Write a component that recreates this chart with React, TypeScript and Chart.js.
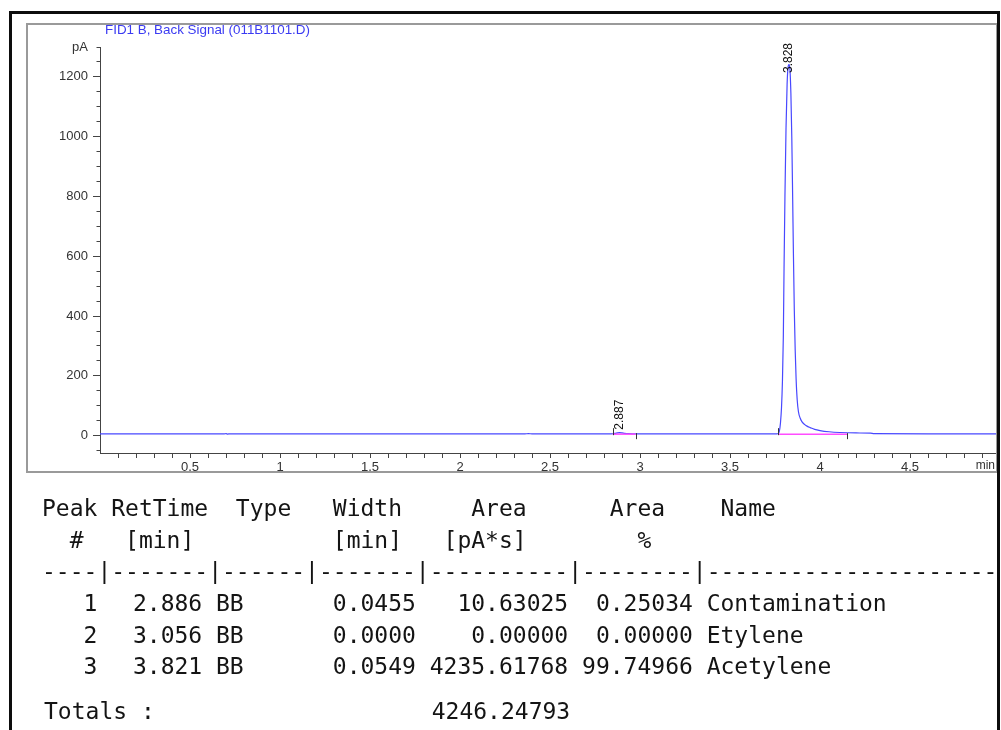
import React, { useEffect, useRef } from 'react';
import { Chart, registerables } from 'chart.js';

Chart.register(...registerables);

const SIGNAL_TITLE = 'FID1 B, Back Signal (011B1101.D)';
const Y_UNIT = 'pA';
const X_UNIT = 'min';

// FID trace: retention time (min) and detector signal (pA)
const signalTime = [
  0.0, 0.69, 0.70, 0.71, 0.72, 1.5, 2.36, 2.38, 2.40, 2.84,
  2.85, 2.862, 2.875, 2.887, 2.9, 2.915, 2.935, 2.96, 2.975, 3.5,
  3.76, 3.768, 3.774, 3.78, 3.786, 3.791, 3.796, 3.8, 3.805, 3.811,
  3.817, 3.823, 3.828, 3.833, 3.838, 3.843, 3.848, 3.852, 3.857, 3.862,
  3.867, 3.873, 3.88, 3.89, 3.9, 3.915, 3.93, 3.945, 3.97, 4.0,
  4.05, 4.11, 4.2, 4.28, 4.3, 4.6, 4.99,
];
const signalPA = [
  6, 6, 6.8, 5.4, 6, 6, 6, 6.6, 6, 6,
  6.3, 7.5, 9.2, 10, 9.2, 7.8, 6.8, 6.2, 6, 6,
  6, 7, 15, 42, 95, 180, 330, 560, 800, 1030,
  1175, 1235, 1242, 1222, 1145, 1000, 790, 610, 420, 285,
  190, 120, 80, 58, 46, 37, 31, 27, 21, 17,
  13, 10.5, 9, 8.5, 6.5, 6, 6,
];

// annotated apex retention times
const peakLabelTimes = [2.887, 3.828];

// integration baselines (start, end, level in pA)
const baselineStart = [2.848, 3.767];
const baselineEnd = [2.975, 4.15];
const baselineLevel = [5, 5];

// axis ticks
const xMajorTicks = [0.5, 1, 1.5, 2, 2.5, 3, 3.5, 4, 4.5];
const xTickLabels = ['0.5', '1', '1.5', '2', '2.5', '3', '3.5', '4', '4.5'];
const yMajorTicks = [0, 200, 400, 600, 800, 1000, 1200];
const yTickLabels = ['0', '200', '400', '600', '800', '1000', '1200'];
const Y_UNIT_TICK = 1300;

// report table
const peakNumbers = [1, 2, 3];
const retTimes = [2.886, 3.056, 3.821];
const peakTypes = ['BB', 'BB', 'BB'];
const peakWidths = [0.0455, 0.0, 0.0549];
const peakAreas = [10.63025, 0.0, 4235.61768];
const areaPercents = [0.25034, 0.0, 99.74966];
const compoundNames = ['Contamination', 'Etylene', 'Acetylene'];

const AXIS_FONT = '"Liberation Sans", Arial, Helvetica, sans-serif';

const annotations = {
  id: 'chromAnnotations',
  afterDatasetsDraw(chart: any) {
    const { ctx, chartArea, scales } = chart;
    const x = scales.x;
    const y = scales.y;
    ctx.save();

    // signal title
    ctx.font = `13.4px ${AXIS_FONT}`;
    ctx.fillStyle = '#3b3bf2';
    ctx.textAlign = 'left';
    ctx.textBaseline = 'middle';
    ctx.fillText(SIGNAL_TITLE, chartArea.left + 5, chartArea.top - 17);

    // x unit at the end of the time axis
    ctx.font = `12px ${AXIS_FONT}`;
    ctx.fillStyle = '#333';
    ctx.textAlign = 'right';
    ctx.fillText(X_UNIT, chartArea.right - 2, chartArea.bottom + 13);

    // integration start / end marks
    ctx.strokeStyle = '#333';
    ctx.lineWidth = 1;
    baselineStart.forEach((t, i) => {
      const px = Math.round(x.getPixelForValue(t)) + 0.5;
      const py = y.getPixelForValue(baselineLevel[i]);
      ctx.beginPath();
      ctx.moveTo(px, py + 1);
      ctx.lineTo(px, py - 6);
      ctx.stroke();
      const qx = Math.round(x.getPixelForValue(baselineEnd[i])) + 0.5;
      ctx.beginPath();
      ctx.moveTo(qx, py - 1);
      ctx.lineTo(qx, py + 5);
      ctx.stroke();
    });

    // retention time labels above each apex
    ctx.font = `12px ${AXIS_FONT}`;
    ctx.fillStyle = '#111';
    ctx.textAlign = 'left';
    ctx.textBaseline = 'middle';
    peakLabelTimes.forEach((t) => {
      let apex = -Infinity;
      signalTime.forEach((st, i) => {
        if (Math.abs(st - t) < 0.02) apex = Math.max(apex, signalPA[i]);
      });
      const text = t.toFixed(3);
      const w = ctx.measureText(text).width;
      const px = x.getPixelForValue(t);
      let bottom = y.getPixelForValue(apex) - 3;
      bottom = Math.max(bottom, chartArea.top - 4 + w);
      ctx.save();
      ctx.translate(px, bottom);
      ctx.rotate(-Math.PI / 2);
      ctx.fillText(text, 0, 0);
      ctx.restore();
    });

    ctx.restore();
  },
};

function ChromatogramChart() {
  const canvasRef = useRef<HTMLCanvasElement | null>(null);

  useEffect(() => {
    const canvas = canvasRef.current;
    if (!canvas) return;

    const datasets: any[] = [];
    baselineStart.forEach((t, i) => {
      datasets.push({
        data: [
          { x: t, y: baselineLevel[i] },
          { x: baselineEnd[i], y: baselineLevel[i] },
        ],
        borderColor: '#ff4cff',
        borderWidth: 1.5,
        pointRadius: 0,
        showLine: true,
      });
    });
    datasets.push({
      data: signalTime.map((t, i) => ({ x: t, y: signalPA[i] })),
      borderColor: '#4848ff',
      borderWidth: 1.2,
      pointRadius: 0,
      showLine: true,
      cubicInterpolationMode: 'monotone',
    });

    const chart = new Chart(canvas, {
      type: 'scatter',
      data: { datasets },
      options: {
        animation: false,
        responsive: false,
        devicePixelRatio: 1,
        layout: { padding: { top: 24, left: 0, right: 1, bottom: 0 } },
        plugins: { legend: { display: false }, tooltip: { enabled: false } },
        scales: {
          x: {
            type: 'linear',
            min: 0,
            max: 4.983,
            afterBuildTicks: (scale: any) => {
              const ticks = [];
              for (let i = 1; i <= 49; i++) ticks.push({ value: i / 10 });
              scale.ticks = ticks;
            },
            afterFit: (scale: any) => {
              scale.height = 20;
            },
            ticks: {
              autoSkip: false,
              maxRotation: 0,
              minRotation: 0,
              padding: 2,
              color: '#333',
              font: { family: AXIS_FONT, size: 13 },
              callback: (value: any) => {
                const idx = xMajorTicks.findIndex((v) => Math.abs(v - value) < 1e-6);
                return idx >= 0 ? xTickLabels[idx] : '';
              },
            },
            grid: {
              drawOnChartArea: false,
              drawTicks: true,
              tickLength: 5,
              tickColor: '#444',
              tickWidth: 1,
            },
            border: { display: true, color: '#444', width: 1 },
          },
          y: {
            type: 'linear',
            min: -58,
            max: 1300,
            afterBuildTicks: (scale: any) => {
              const ticks = [];
              for (let i = -1; i <= 26; i++) ticks.push({ value: i * 50 });
              scale.ticks = ticks;
            },
            afterFit: (scale: any) => {
              scale.width = 74;
            },
            ticks: {
              autoSkip: false,
              padding: 5,
              color: '#333',
              font: { family: AXIS_FONT, size: 13 },
              callback: (value: any) => {
                if (Math.abs(value - Y_UNIT_TICK) < 1e-6) return Y_UNIT;
                const idx = yMajorTicks.findIndex((v) => Math.abs(v - value) < 1e-6);
                return idx >= 0 ? yTickLabels[idx] : '';
              },
            },
            grid: {
              drawOnChartArea: false,
              drawTicks: true,
              tickLength: 7,
              tickColor: '#444',
              tickWidth: 1,
              tickBorderDash: (ctx: any) => {
                const v = ctx.tick ? ctx.tick.value : 0;
                return yMajorTicks.includes(v) ? [] : [0, 3.5, 10, 0];
              },
            },
            border: { display: true, color: '#444', width: 1 },
          },
        },
      },
      plugins: [annotations],
    } as any);

    return () => chart.destroy();
  }, []);

  return (
    <canvas
      ref={canvasRef}
      width={972}
      height={450}
      style={{ position: 'absolute', left: 26, top: 23, width: 972, height: 450 }}
    />
  );
}

// fixed-width report lines
const headerLine1 = 'Peak RetTime  Type   Width     Area      Area    Name';
const headerLine2 = '  #   [min]' + ' '.repeat(10) + '[min]   [pA*s]' + ' '.repeat(8) + '%';
const ruleLine = '----|-------|------|-------|----------|--------|' + '-'.repeat(40);

function rowParts(i: number) {
  const num = String(peakNumbers[i]).padStart(4);
  const mid = retTimes[i].toFixed(3).padStart(8) + ' ' + peakTypes[i].padEnd(2);
  const rest =
    peakWidths[i].toFixed(4).padStart(12) +
    peakAreas[i].toFixed(5).padStart(11) +
    areaPercents[i].toFixed(5).padStart(9) +
    ' ' +
    compoundNames[i];
  return { num, mid, rest };
}

const totalArea = peakAreas.reduce((a, b) => a + b, 0);
const totalsLine = 'Totals :' + totalArea.toFixed(5).padStart(30);

const ROW_BASELINES = [611, 643, 674];
const BASELINE_OFFSET = 19.5;

const monoStyle: React.CSSProperties = {
  position: 'absolute',
  left: 42,
  margin: 0,
  fontFamily: '"DejaVu Sans Mono", "Liberation Mono", monospace',
  fontSize: 23,
  lineHeight: '23px',
  color: '#141414',
  whiteSpace: 'pre',
};

export default function App() {
  return (
    <div
      style={{
        position: 'fixed',
        left: 0,
        top: 0,
        width: 1001,
        height: 730,
        background: '#fff',
        overflow: 'hidden',
      }}
    >
      <ChromatogramChart />
      <div
        style={{
          position: 'absolute',
          left: 26,
          top: 23,
          width: 972,
          height: 450,
          boxSizing: 'border-box',
          border: '2px solid #9a9a9a',
          pointerEvents: 'none',
        }}
      />
      <div
        style={{
          position: 'absolute',
          left: 9,
          top: 11,
          width: 991,
          height: 800,
          boxSizing: 'border-box',
          border: '3px solid #0d0d0d',
          pointerEvents: 'none',
        }}
      />
      <div style={{ ...monoStyle, top: 516 - BASELINE_OFFSET }}>{headerLine1}</div>
      <div style={{ ...monoStyle, top: 548 - BASELINE_OFFSET }}>{headerLine2}</div>
      <div style={{ ...monoStyle, top: 579 - BASELINE_OFFSET }}>{ruleLine}</div>
      {peakNumbers.map((_, i) => {
        const p = rowParts(i);
        return (
          <div key={i} style={{ ...monoStyle, top: ROW_BASELINES[i] - BASELINE_OFFSET }}>
            {p.num}
            <span style={{ position: 'relative', left: -6 }}>{p.mid}</span>
            {p.rest}
          </div>
        );
      })}
      <div style={{ ...monoStyle, left: 44, top: 719 - BASELINE_OFFSET }}>{totalsLine}</div>
    </div>
  );
}
